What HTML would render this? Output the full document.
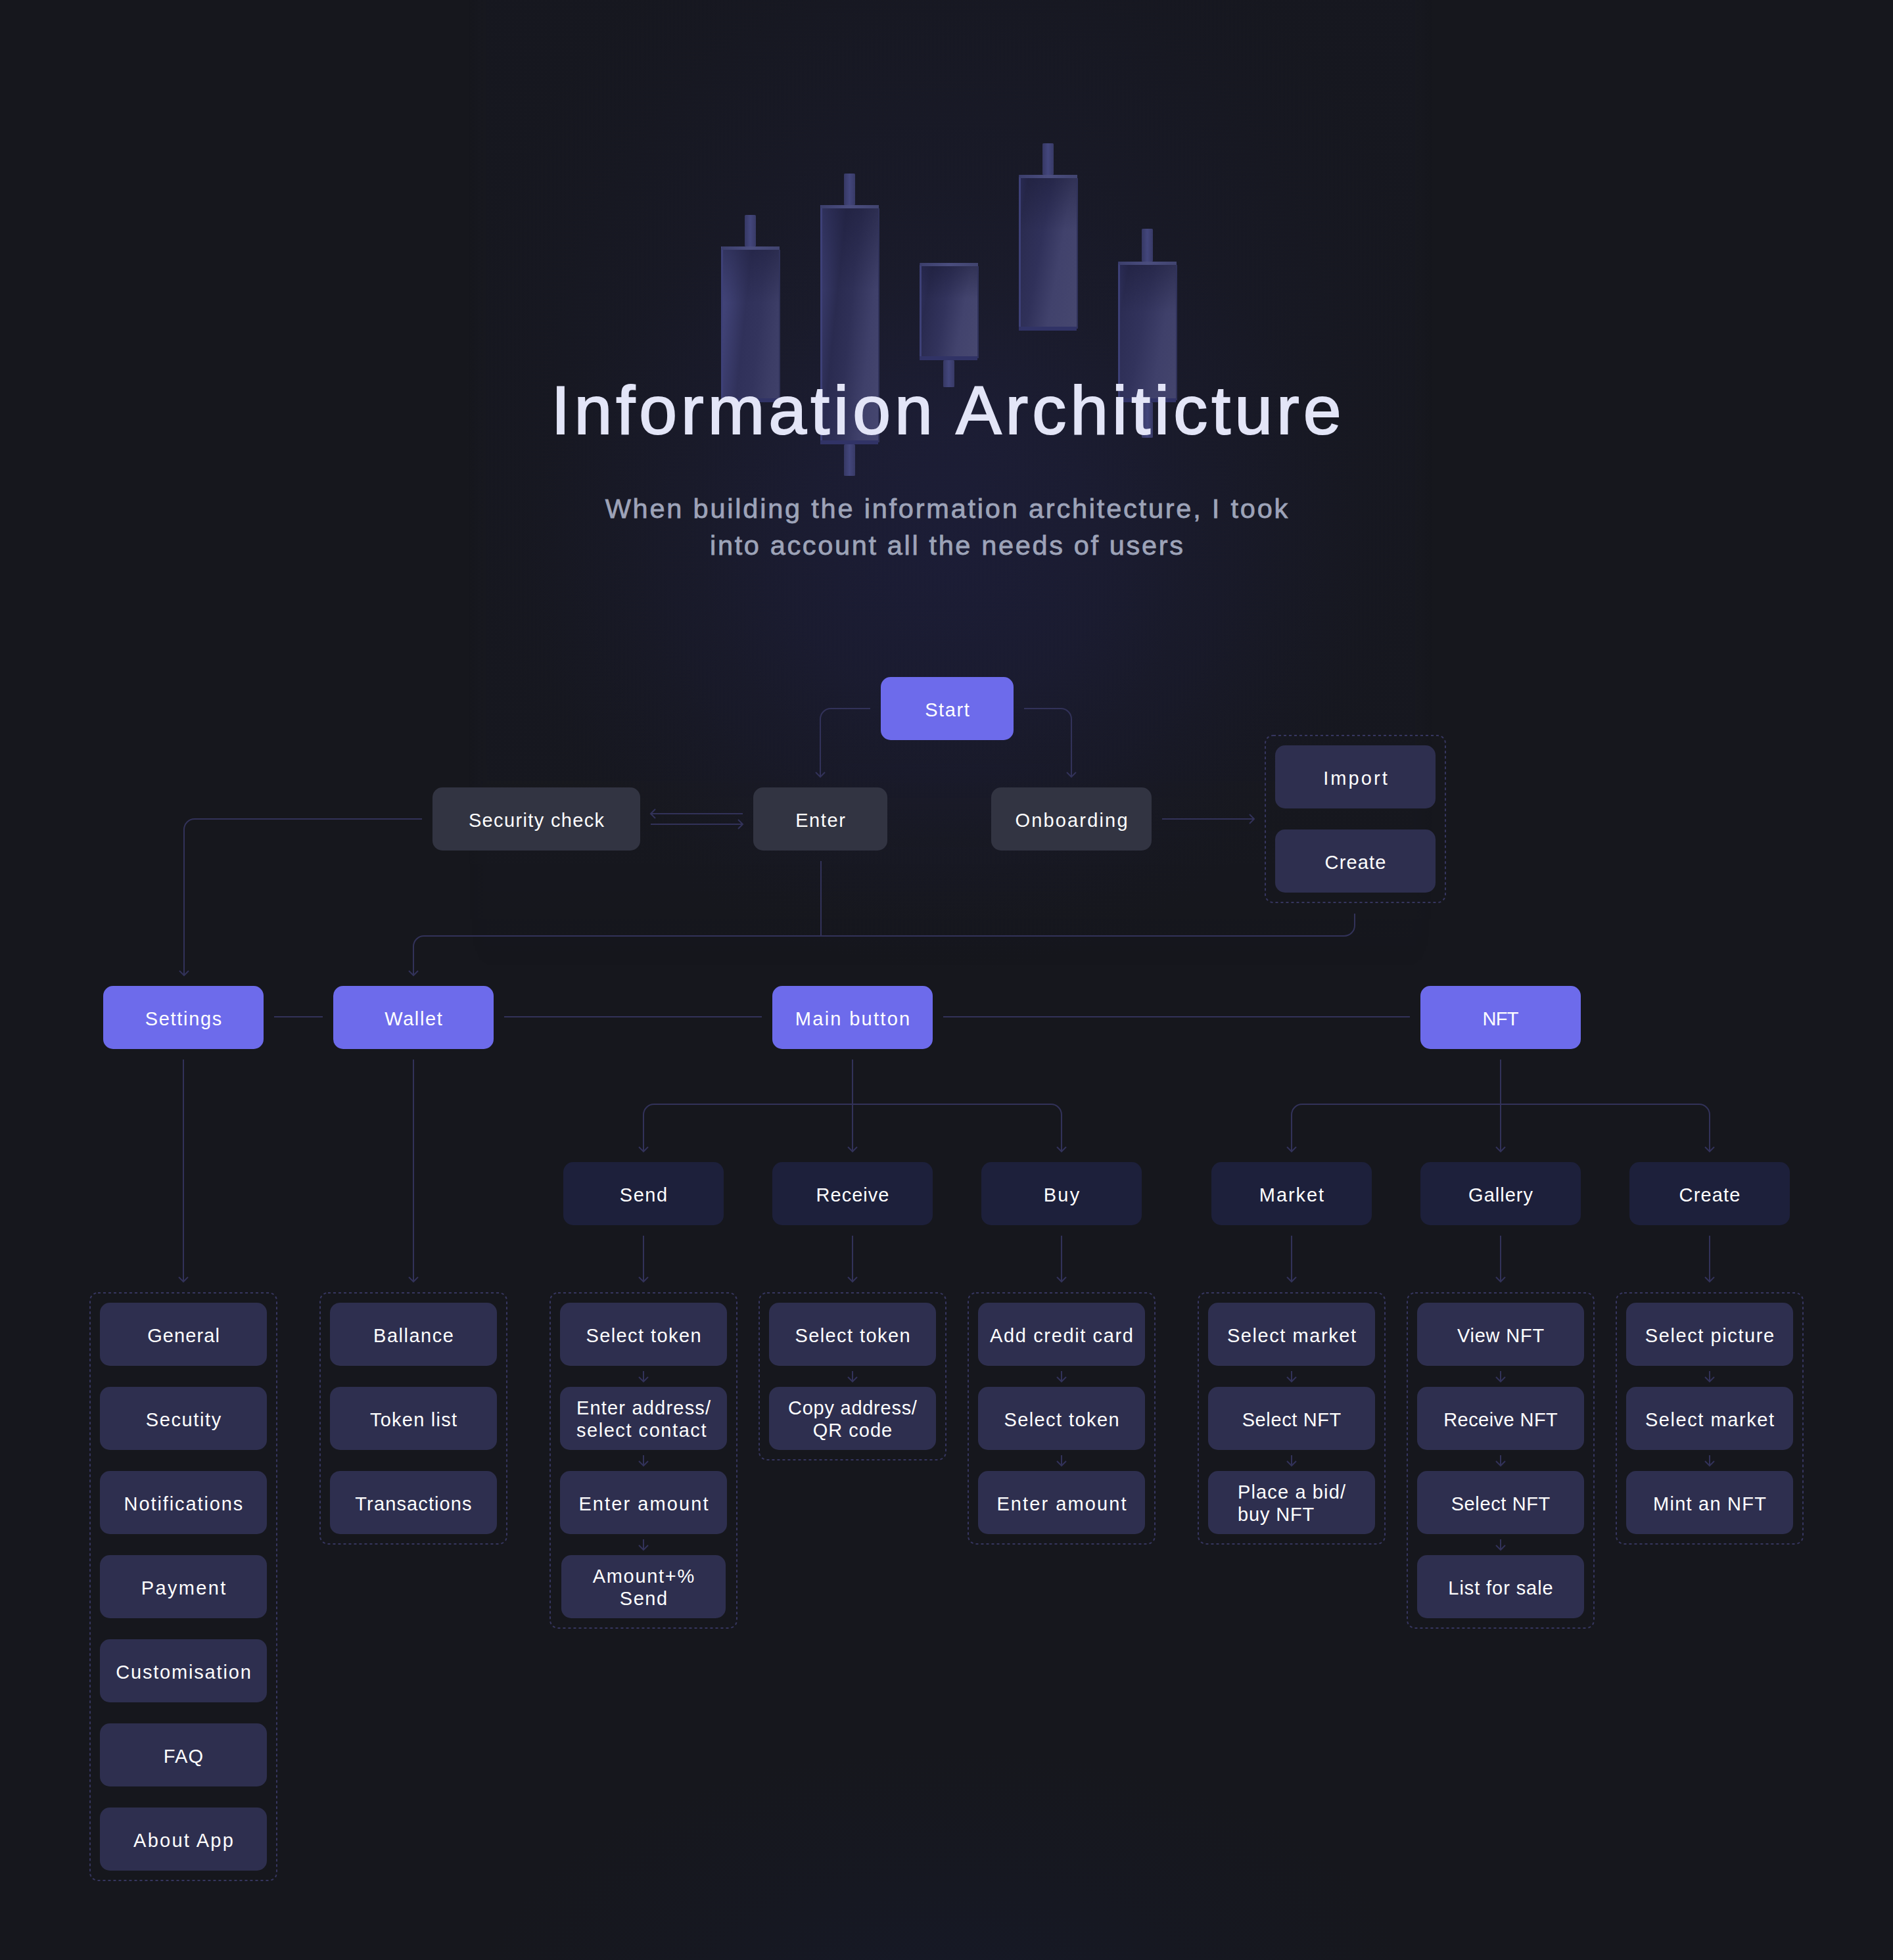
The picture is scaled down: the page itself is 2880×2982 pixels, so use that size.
<!DOCTYPE html>
<html lang="en"><head><meta charset="utf-8"><title>Information Architicture</title>
<style>
*{margin:0;padding:0;box-sizing:border-box}
html,body{width:2880px;height:2982px;overflow:hidden}
body{position:relative;background:#16171d;font-family:"Liberation Sans",sans-serif;color:#fff}
.bg{position:absolute;left:0;top:0;width:2880px;height:2982px;
 background:
  radial-gradient(ellipse 640px 560px at 1440px 850px, rgba(34,35,88,.27) 0%, rgba(34,35,86,.20) 38%, rgba(32,33,72,.08) 74%, rgba(22,23,29,0) 100%),
  radial-gradient(ellipse 740px 840px at 1440px 640px, rgba(36,37,72,.30) 0%, rgba(32,33,64,.22) 48%, rgba(28,29,50,.09) 84%, rgba(22,23,29,0) 100%),
  radial-gradient(ellipse 720px 400px at 1440px 3060px, rgba(22,30,64,.30) 0%, rgba(22,28,52,.17) 55%, rgba(22,23,29,0) 100%);}
.col{position:absolute;left:0;top:0;width:2880px;height:1480px;
 background:linear-gradient(90deg, rgba(44,46,86,0) 712px, rgba(44,46,86,.05) 742px, rgba(44,46,86,.05) 2150px, rgba(44,46,86,0) 2180px);
 -webkit-mask-image:linear-gradient(180deg,#000 0,#000 1150px,transparent 1480px);mask-image:linear-gradient(180deg,#000 0,#000 1150px,transparent 1480px)}
.title{position:absolute;left:0;width:2880px;top:568.8px;text-align:center;font-size:104px;line-height:110px;color:#e3e5f7;white-space:nowrap;-webkit-text-stroke:2px #e3e5f7}
.title span{letter-spacing:6.02px;margin-right:-6.02px;margin-left:-1px}
.sub{position:absolute;left:0;width:2880px;top:746.1px;text-align:center;font-size:41.5px;line-height:56px;color:#9da3b8;white-space:nowrap;-webkit-text-stroke:.8px #9da3b8}
.sub span{display:block}
.nd{position:absolute;border-radius:15px;display:flex;align-items:center;justify-content:center;text-align:center;font-size:29px;line-height:34px;white-space:nowrap;color:#fff;padding-top:4px}
.two{padding-top:2.4px}
.lb{display:inline-block}
.ln{display:block}
.left .lb{text-align:left}
.a{background:#6d6beb}
.g{background:#323442}
.p{background:#2e2f4f}
.n{background:#1d203b}
.cb{position:absolute}
.cb i{position:absolute;display:block}
.cb .tp{left:1px;right:-1px;top:0;height:5px;background:linear-gradient(90deg,#3c3f6c,#4a4d7e 50%,#41446f)}
.cb .bt{left:0;right:0;bottom:0;height:6px;background:#313366}
.cb .lf{left:0;top:3px;bottom:0;width:3px;background:#3d4077}
.cb .rt{right:-2px;top:5px;bottom:3px;width:2px;background:#30325a}
.cb .sh{left:3px;right:0;top:5px;height:34%;background:linear-gradient(180deg,rgba(22,23,48,.38),rgba(22,23,48,0))}
.k1{background:linear-gradient(96deg,#464980 0%,#3f4174 16%,#30315a 42%,#33345d 62%,#3c3d66 85%,#3f4069 100%)}
.k2{background:linear-gradient(96deg,#40437a 0%,#383a6a 11%,#2a2b50 32%,#2f3057 50%,#3f406a 76%,#464770 100%)}
.k3{background:linear-gradient(100deg,#30315e 0%,#292a4f 18%,#32335c 44%,#42436d 70%,#474870 100%)}
.k4{background:linear-gradient(100deg,#34366a 0%,#2a2b4f 12%,#30315a 40%,#41426c 65%,#46476f 100%)}
.k5{background:linear-gradient(100deg,#36386c 0%,#2c2d54 14%,#32335c 42%,#3f406a 70%,#44456d 100%)}
.cw{position:absolute;width:17px;border-radius:1.5px;background:linear-gradient(90deg,#363864,#43467c 50%,#383a66)}
svg{position:absolute;left:0;top:0}
</style></head><body>
<div class="bg"></div><div class="col"></div>
<div class="cw" style="left:1132.5px;top:327px;height:48px"></div>
<div class="cb k1" style="left:1097px;top:375px;width:88px;height:237px"><i class="sh"></i><i class="lf"></i><i class="rt"></i><i class="bt"></i><i class="tp"></i></div>
<div class="cw" style="left:1283.5px;top:264px;height:48px"></div>
<div class="cw" style="left:1283.5px;top:676px;height:48px"></div>
<div class="cb k2" style="left:1248px;top:312px;width:88px;height:364px"><i class="sh"></i><i class="lf"></i><i class="rt"></i><i class="bt"></i><i class="tp"></i></div>
<div class="cw" style="left:1434.5px;top:548px;height:41px"></div>
<div class="cb k3" style="left:1399px;top:400px;width:88px;height:148px"><i class="sh"></i><i class="lf"></i><i class="rt"></i><i class="bt"></i><i class="tp"></i></div>
<div class="cw" style="left:1585.5px;top:218px;height:48px"></div>
<div class="cb k4" style="left:1550px;top:266px;width:88px;height:237px"><i class="sh"></i><i class="lf"></i><i class="rt"></i><i class="bt"></i><i class="tp"></i></div>
<div class="cw" style="left:1736.5px;top:348px;height:50px"></div>
<div class="cw" style="left:1736.5px;top:612px;height:54px"></div>
<div class="cb k5" style="left:1701px;top:398px;width:88px;height:214px"><i class="sh"></i><i class="lf"></i><i class="rt"></i><i class="bt"></i><i class="tp"></i></div>
<div class="title"><span>Information Architicture</span></div>
<div class="sub"><span style="letter-spacing:2.79px;margin-right:-2.79px">When building the information architecture, I took</span><span style="letter-spacing:2.65px;margin-right:-2.65px">into account all the needs of users</span></div>
<svg width="2880" height="2982" viewBox="0 0 2880 2982" fill="none" stroke="#323259" stroke-width="2">
<g stroke-dasharray="4 4" stroke="#36365f">
<rect x="1925" y="1119" width="274" height="254" rx="12"/>
<rect x="137" y="1967" width="284" height="894" rx="12"/>
<rect x="487" y="1967" width="284" height="382" rx="12"/>
<rect x="837" y="1967" width="284" height="510" rx="12"/>
<rect x="1155" y="1967" width="284" height="254" rx="12"/>
<rect x="1473" y="1967" width="284" height="382" rx="12"/>
<rect x="1823" y="1967" width="284" height="382" rx="12"/>
<rect x="2141" y="1967" width="284" height="510" rx="12"/>
<rect x="2459" y="1967" width="284" height="382" rx="12"/>
</g>
<path d="M1324 1078H1264A16 16 0 0 0 1248 1094V1182M1241 1175L1248 1182L1255 1175M1558 1078H1614A16 16 0 0 1 1630 1094V1182M1623 1175L1630 1182L1637 1175M642 1246H296A16 16 0 0 0 280 1262V1484M273 1477L280 1484L287 1477M1130 1238H990M997 1231L990 1238L997 1245M990 1254H1130M1123 1247L1130 1254L1123 1261M1768 1246H1908M1901 1239L1908 1246L1901 1253M1249 1310V1424M2061 1390V1408A16 16 0 0 1 2045 1424H645A16 16 0 0 0 629 1440V1484M622 1477L629 1484L636 1477M417 1547H491M767 1547H1159M1435 1547H2145M279 1612V1950M272 1943L279 1950L286 1943M629 1612V1950M622 1943L629 1950L636 1943M1297 1612V1752M1290 1745L1297 1752L1304 1745M979 1752V1696A16 16 0 0 1 995 1680H1599A16 16 0 0 1 1615 1696V1752M972 1745L979 1752L986 1745M1608 1745L1615 1752L1622 1745M2283 1612V1752M2276 1745L2283 1752L2290 1745M1965 1752V1696A16 16 0 0 1 1981 1680H2585A16 16 0 0 1 2601 1696V1752M1958 1745L1965 1752L1972 1745M2594 1745L2601 1752L2608 1745M979 1880V1950M972 1943L979 1950L986 1943M1297 1880V1950M1290 1943L1297 1950L1304 1943M1615 1880V1950M1608 1943L1615 1950L1622 1943M1965 1880V1950M1958 1943L1965 1950L1972 1943M2283 1880V1950M2276 1943L2283 1950L2290 1943M2601 1880V1950M2594 1943L2601 1950L2608 1943M979 2086V2102M972 2095L979 2102L986 2095M979 2214V2230M972 2223L979 2230L986 2223M979 2342V2358M972 2351L979 2358L986 2351M1297 2086V2102M1290 2095L1297 2102L1304 2095M1615 2086V2102M1608 2095L1615 2102L1622 2095M1615 2214V2230M1608 2223L1615 2230L1622 2223M1965 2086V2102M1958 2095L1965 2102L1972 2095M1965 2214V2230M1958 2223L1965 2230L1972 2223M2283 2086V2102M2276 2095L2283 2102L2290 2095M2283 2214V2230M2276 2223L2283 2230L2290 2223M2283 2342V2358M2276 2351L2283 2358L2290 2351M2601 2086V2102M2594 2095L2601 2102L2608 2095M2601 2214V2230M2594 2223L2601 2230L2608 2223"/>
</svg>
<div class="nd a" style="left:1340px;top:1030px;width:202px;height:96px"><div class="lb"><span class="ln" style="letter-spacing:1.6px;margin-right:-1.6px">Start</span></div></div>
<div class="nd g" style="left:658px;top:1198px;width:316px;height:96px"><div class="lb"><span class="ln" style="letter-spacing:1.35px;margin-right:-1.35px">Security check</span></div></div>
<div class="nd g" style="left:1146px;top:1198px;width:204px;height:96px"><div class="lb"><span class="ln" style="letter-spacing:1.59px;margin-right:-1.59px">Enter</span></div></div>
<div class="nd g" style="left:1508px;top:1198px;width:244px;height:96px"><div class="lb"><span class="ln" style="letter-spacing:2.17px;margin-right:-2.17px">Onboarding</span></div></div>
<div class="nd p" style="left:1940px;top:1134px;width:244px;height:96px"><div class="lb"><span class="ln" style="letter-spacing:3.05px;margin-right:-3.05px">Import</span></div></div>
<div class="nd p" style="left:1940px;top:1262px;width:244px;height:96px"><div class="lb"><span class="ln" style="letter-spacing:1.18px;margin-right:-1.18px">Create</span></div></div>
<div class="nd a" style="left:157px;top:1500px;width:244px;height:96px"><div class="lb"><span class="ln" style="letter-spacing:1.67px;margin-right:-1.67px">Settings</span></div></div>
<div class="nd a" style="left:507px;top:1500px;width:244px;height:96px"><div class="lb"><span class="ln" style="letter-spacing:1.59px;margin-right:-1.59px">Wallet</span></div></div>
<div class="nd a" style="left:1175px;top:1500px;width:244px;height:96px"><div class="lb"><span class="ln" style="letter-spacing:2.29px;margin-right:-2.29px">Main button</span></div></div>
<div class="nd a" style="left:2161px;top:1500px;width:244px;height:96px"><div class="lb"><span class="ln" style="letter-spacing:-0.63px;margin-right:0.63px">NFT</span></div></div>
<div class="nd n" style="left:857px;top:1768px;width:244px;height:96px"><div class="lb"><span class="ln" style="letter-spacing:1.53px;margin-right:-1.53px">Send</span></div></div>
<div class="nd n" style="left:1175px;top:1768px;width:244px;height:96px"><div class="lb"><span class="ln" style="letter-spacing:1.03px;margin-right:-1.03px">Receive</span></div></div>
<div class="nd n" style="left:1493px;top:1768px;width:244px;height:96px"><div class="lb"><span class="ln" style="letter-spacing:2.31px;margin-right:-2.31px">Buy</span></div></div>
<div class="nd n" style="left:1843px;top:1768px;width:244px;height:96px"><div class="lb"><span class="ln" style="letter-spacing:1.95px;margin-right:-1.95px">Market</span></div></div>
<div class="nd n" style="left:2161px;top:1768px;width:244px;height:96px"><div class="lb"><span class="ln" style="letter-spacing:0.99px;margin-right:-0.99px">Gallery</span></div></div>
<div class="nd n" style="left:2479px;top:1768px;width:244px;height:96px"><div class="lb"><span class="ln" style="letter-spacing:1.18px;margin-right:-1.18px">Create</span></div></div>
<div class="nd p" style="left:152px;top:1982px;width:254px;height:96px"><div class="lb"><span class="ln" style="letter-spacing:1.08px;margin-right:-1.08px">General</span></div></div>
<div class="nd p" style="left:152px;top:2110px;width:254px;height:96px"><div class="lb"><span class="ln" style="letter-spacing:1.62px;margin-right:-1.62px">Secutity</span></div></div>
<div class="nd p" style="left:152px;top:2238px;width:254px;height:96px"><div class="lb"><span class="ln" style="letter-spacing:1.9px;margin-right:-1.9px">Notifications</span></div></div>
<div class="nd p" style="left:152px;top:2366px;width:254px;height:96px"><div class="lb"><span class="ln" style="letter-spacing:2.35px;margin-right:-2.35px">Payment</span></div></div>
<div class="nd p" style="left:152px;top:2494px;width:254px;height:96px"><div class="lb"><span class="ln" style="letter-spacing:1.82px;margin-right:-1.82px">Customisation</span></div></div>
<div class="nd p" style="left:152px;top:2622px;width:254px;height:96px"><div class="lb"><span class="ln" style="letter-spacing:1.17px;margin-right:-1.17px">FAQ</span></div></div>
<div class="nd p" style="left:152px;top:2750px;width:254px;height:96px"><div class="lb"><span class="ln" style="letter-spacing:2.24px;margin-right:-2.24px">About App</span></div></div>
<div class="nd p" style="left:502px;top:1982px;width:254px;height:96px"><div class="lb"><span class="ln" style="letter-spacing:1.51px;margin-right:-1.51px">Ballance</span></div></div>
<div class="nd p" style="left:502px;top:2110px;width:254px;height:96px"><div class="lb"><span class="ln" style="letter-spacing:1.23px;margin-right:-1.23px">Token list</span></div></div>
<div class="nd p" style="left:502px;top:2238px;width:254px;height:96px"><div class="lb"><span class="ln" style="letter-spacing:1.12px;margin-right:-1.12px">Transactions</span></div></div>
<div class="nd p" style="left:852px;top:1982px;width:254px;height:96px"><div class="lb"><span class="ln" style="letter-spacing:1.42px;margin-right:-1.42px">Select token</span></div></div>
<div class="nd p two left" style="left:852px;top:2110px;width:254px;height:96px"><div class="lb"><span class="ln" style="letter-spacing:1.2px;margin-right:-1.2px">Enter address/</span><span class="ln" style="letter-spacing:1.56px;margin-right:-1.56px">select contact</span></div></div>
<div class="nd p" style="left:852px;top:2238px;width:254px;height:96px"><div class="lb"><span class="ln" style="letter-spacing:2.1px;margin-right:-2.1px">Enter amount</span></div></div>
<div class="nd p two" style="left:854px;top:2366px;width:250px;height:96px"><div class="lb"><span class="ln" style="letter-spacing:1.7px;margin-right:-1.7px">Amount+%</span><span class="ln" style="letter-spacing:1.53px;margin-right:-1.53px">Send</span></div></div>
<div class="nd p" style="left:1170px;top:1982px;width:254px;height:96px"><div class="lb"><span class="ln" style="letter-spacing:1.42px;margin-right:-1.42px">Select token</span></div></div>
<div class="nd p two" style="left:1170px;top:2110px;width:254px;height:96px"><div class="lb"><span class="ln" style="letter-spacing:0.74px;margin-right:-0.74px">Copy address/</span><span class="ln" style="letter-spacing:1.0px;margin-right:-1.0px">QR code</span></div></div>
<div class="nd p" style="left:1488px;top:1982px;width:254px;height:96px"><div class="lb"><span class="ln" style="letter-spacing:1.63px;margin-right:-1.63px">Add credit card</span></div></div>
<div class="nd p" style="left:1488px;top:2110px;width:254px;height:96px"><div class="lb"><span class="ln" style="letter-spacing:1.42px;margin-right:-1.42px">Select token</span></div></div>
<div class="nd p" style="left:1488px;top:2238px;width:254px;height:96px"><div class="lb"><span class="ln" style="letter-spacing:2.1px;margin-right:-2.1px">Enter amount</span></div></div>
<div class="nd p" style="left:1838px;top:1982px;width:254px;height:96px"><div class="lb"><span class="ln" style="letter-spacing:1.57px;margin-right:-1.57px">Select market</span></div></div>
<div class="nd p" style="left:1838px;top:2110px;width:254px;height:96px"><div class="lb"><span class="ln" style="letter-spacing:0.63px;margin-right:-0.63px">Select NFT</span></div></div>
<div class="nd p two left" style="left:1838px;top:2238px;width:254px;height:96px"><div class="lb"><span class="ln" style="letter-spacing:1.14px;margin-right:-1.14px">Place a bid/</span><span class="ln" style="letter-spacing:0.85px;margin-right:-0.85px">buy NFT</span></div></div>
<div class="nd p" style="left:2156px;top:1982px;width:254px;height:96px"><div class="lb"><span class="ln" style="letter-spacing:0.78px;margin-right:-0.78px">View NFT</span></div></div>
<div class="nd p" style="left:2156px;top:2110px;width:254px;height:96px"><div class="lb"><span class="ln" style="letter-spacing:0.43px;margin-right:-0.43px">Receive NFT</span></div></div>
<div class="nd p" style="left:2156px;top:2238px;width:254px;height:96px"><div class="lb"><span class="ln" style="letter-spacing:0.63px;margin-right:-0.63px">Select NFT</span></div></div>
<div class="nd p" style="left:2156px;top:2366px;width:254px;height:96px"><div class="lb"><span class="ln" style="letter-spacing:0.92px;margin-right:-0.92px">List for sale</span></div></div>
<div class="nd p" style="left:2474px;top:1982px;width:254px;height:96px"><div class="lb"><span class="ln" style="letter-spacing:1.6px;margin-right:-1.6px">Select picture</span></div></div>
<div class="nd p" style="left:2474px;top:2110px;width:254px;height:96px"><div class="lb"><span class="ln" style="letter-spacing:1.57px;margin-right:-1.57px">Select market</span></div></div>
<div class="nd p" style="left:2474px;top:2238px;width:254px;height:96px"><div class="lb"><span class="ln" style="letter-spacing:1.23px;margin-right:-1.23px">Mint an NFT</span></div></div>
</body></html>
